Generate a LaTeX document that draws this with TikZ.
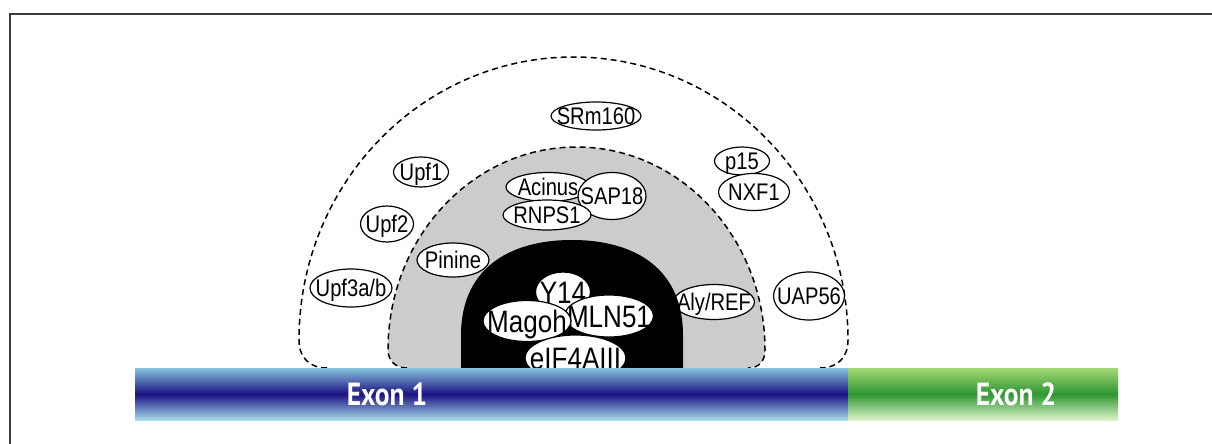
\documentclass[tikz,border=0pt]{standalone}
\usepackage{fontspec}
\setmainfont{Liberation Sans}
\newfontfamily\labfont[FakeStretch=0.84]{Liberation Sans}
\newfontfamily\exonfont[FakeStretch=0.86]{PT Sans}
\usetikzlibrary{shapes.geometric}
\newcommand\lbl[1]{\makebox[0pt]{#1}}
\definecolor{framecol}{HTML}{3C3C3C}
\definecolor{exonAtop}{HTML}{86C2DA}
\definecolor{exonAmid}{HTML}{1B1282}
\definecolor{exonAbot}{HTML}{A6DCEA}
\definecolor{exonBtop}{HTML}{A4D874}
\definecolor{exonBmid}{HTML}{2E9632}
\definecolor{exonBbot}{HTML}{DDF3C8}
\definecolor{domegray}{HTML}{CCCCCC}
\begin{document}
\begin{tikzpicture}[x=1pt,y=1pt,
  prot/.style={ellipse, draw=black, line width=1.2pt, fill=white, inner sep=0pt,
    text height=17pt, text depth=0pt,
    font=\labfont\fontsize{24}{24}\selectfont},
  core/.style={prot, text height=22pt, font=\labfont\fontsize{31}{31}\selectfont},
  domeline/.style={draw=black, line width=1.5pt, dash pattern=on 6pt off 4pt},
  exonlabel/.style={text=white, inner sep=0pt, font=\exonfont\bfseries\fontsize{32}{32}\selectfont}]
\useasboundingbox[fill=white] (0,0) rectangle (1212,-444);

% outer dashed dome
\draw[domeline] (327,-368) .. controls (310,-368) and (299,-358) .. (299,-340)
  arc[start angle=180, end angle=0, x radius=274.5, y radius=283]
  .. controls (848,-358) and (837,-368) .. (820,-368);

% inner grey dome
\draw[domeline, fill=domegray] (407,-368) .. controls (395,-368) and (388,-360) .. (388,-350)
  arc[start angle=180, end angle=0, x radius=188.5, y radius=203]
  .. controls (765,-360) and (760,-368) .. (748,-368);

% outer proteins
\node[prot, minimum width=90pt, minimum height=28pt] (srm) at (596,-116) {\lbl{SRm160}};
\node[prot, minimum width=55pt, minimum height=30pt] (upf1) at (421,-172) {\lbl{Upf1}};
\node[prot, minimum width=53pt, minimum height=36pt] (upf2) at (387,-224) {\lbl{Upf2}};
\node[prot, minimum width=82pt, minimum height=38pt] (upf3) at (351,-288) {\lbl{Upf3a/b}};
\node[prot, minimum width=55pt, minimum height=28pt] (p15) at (742,-161) {\lbl{p15}};
\node[prot, minimum width=71pt, minimum height=37pt] (nxf1) at (754,-192) {\lbl{NXF1}};
\node[prot, minimum width=71pt, minimum height=48pt] (uap) at (809,-296) {\lbl{UAP56}};

% inner proteins
\node[prot, minimum width=72pt, minimum height=34pt] (pinine) at (453,-260) {\lbl{Pinine}};
\node[prot, minimum width=84pt, minimum height=29pt] (acinus) at (548,-187) {\lbl{Acinus}};
\node[prot, minimum width=68pt, minimum height=47pt] (sap18) at (612,-196) {\lbl{SAP18}};
\node[prot, minimum width=88pt, minimum height=30pt] (rnps1) at (547,-215) {\lbl{RNPS1}};
\node[prot, minimum width=81pt, minimum height=35pt] (aly) at (714,-302) {\lbl{Aly/REF}};

% black core
\fill[black] (461,-368) -- (461,-335) .. controls (461,-272) and (505,-240) .. (572,-240)
  .. controls (639,-240) and (683,-272) .. (683,-335) -- (683,-368) -- cycle;

\node[core, minimum width=55pt, minimum height=40pt] (y14) at (563,-292) {\lbl{Y14}};
\node[core, minimum width=89pt, minimum height=42pt] (mln51) at (609,-316) {\lbl{MLN51}};
\node[core, minimum width=88pt, minimum height=41pt] (magoh) at (527,-321) {\lbl{Magoh}};
\node[core, minimum width=101pt, minimum height=46pt] (eif) at (575.5,-358) {\lbl{eIF4AIII}};

% exon bar
\shade[top color=exonAtop, bottom color=exonAbot, middle color=exonAmid] (135,-368) rectangle (848,-420);
\shade[top color=exonBtop, bottom color=exonBbot, middle color=exonBmid] (848,-368) rectangle (1118,-420);
\node[exonlabel] (exon1) at (387,-394) {Exon 1};
\node[exonlabel] (exon2) at (1016,-394) {Exon 2};

% frame
\draw[framecol, line width=2.5pt] (1212,-14) -- (10,-14) -- (10,-444);
\end{tikzpicture}
\end{document}
